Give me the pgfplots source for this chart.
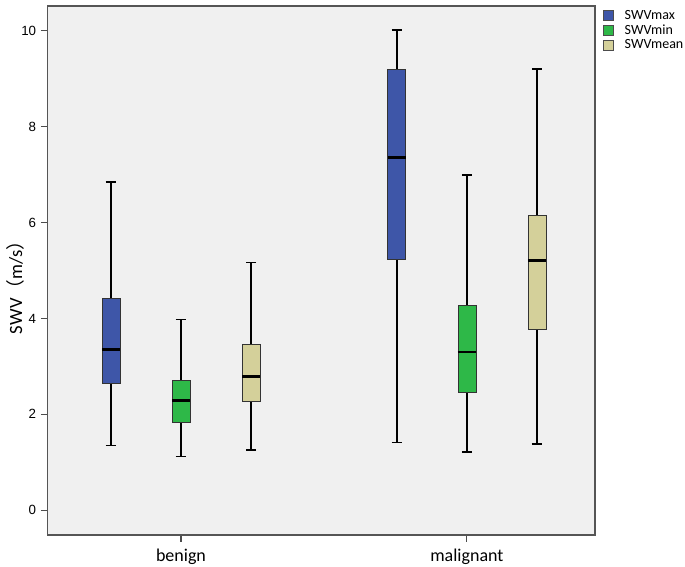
\documentclass[border=0pt]{standalone}
\usepackage{fontspec}
\setmainfont{Carlito}
\newfontfamily\arial{Liberation Sans}
\newfontfamily\cjk{Noto Sans CJK SC}
\usepackage{pgfplots}
\pgfplotsset{compat=1.18}
\usepgfplotslibrary{statistics}

\definecolor{bgray}{RGB}{240,240,240}
\definecolor{frameg}{RGB}{85,85,85}
\definecolor{sblue}{RGB}{62,86,168}
\definecolor{sgreen}{RGB}{46,184,72}
\definecolor{stan}{RGB}{212,208,154}

\pgfplotsset{
  spssbox/.style={
    draw=black!80, line width=0.6pt,
    boxplot/draw direction=y,
    boxplot/box extend=0.063,
    boxplot/whisker extend=0.035,
    boxplot/every whisker/.style={black, line width=1.3pt},
    boxplot/every median/.style={black, line width=2.2pt},
    forget plot,
  },
}

\begin{document}
\begin{tikzpicture}
\begin{axis}[
  at={(0,0)}, anchor=south west,
  scale only axis,
  width=410.6pt, height=396.75pt,
  xmin=-0.467, xmax=1.448,
  ymin=-0.52, ymax=10.52,
  axis background/.style={fill=bgray},
  axis line style={frameg, line width=0.9pt},
  xtick={0,1},
  xticklabels={benign, malignant},
  ytick={0,2,4,6,8,10},
  xtick pos=bottom, ytick pos=left,
  tick align=outside,
  major tick length=5pt,
  xtick style={black!70, line width=0.8pt},
  ytick style={black!70, line width=0.8pt},
  xticklabel style={font=\fontsize{13.5}{15}\selectfont, yshift=-2pt},
  yticklabel style={font=\arial\fontsize{10}{12}\selectfont},
  /pgf/number format/assume math mode=true,
  legend style={at={(rel axis cs:1.0146,0.998)}, anchor=north west, draw=none, fill=none,
    font=\fontsize{10.5}{12}\selectfont, row sep=-1.5pt, inner sep=0pt,
    nodes={inner xsep=8pt}},
  legend cell align=left,
  legend image code/.code={\draw[#1, line width=0.6pt] (0pt,-3.75pt) rectangle (7.5pt,3.75pt);},
]
\addlegendimage{fill=sblue, draw=black!70}
\addlegendentry{SWVmax}
\addlegendimage{fill=sgreen, draw=black!70}
\addlegendentry{SWVmin}
\addlegendimage{fill=stan, draw=black!70}
\addlegendentry{SWVmean}

% benign
\addplot[spssbox, fill=sblue, boxplot prepared={draw position=-0.245,
  lower whisker=1.35, lower quartile=2.64, median=3.35, upper quartile=4.41, upper whisker=6.85}]
  coordinates {};
\addplot[spssbox, fill=sgreen, boxplot prepared={draw position=0,
  lower whisker=1.12, lower quartile=1.83, median=2.28, upper quartile=2.71, upper whisker=3.98}]
  coordinates {};
\addplot[spssbox, fill=stan, boxplot prepared={draw position=0.245,
  lower whisker=1.25, lower quartile=2.26, median=2.78, upper quartile=3.45, upper whisker=5.17}]
  coordinates {};
% malignant
\addplot[spssbox, fill=sblue, boxplot prepared={draw position=0.755,
  lower whisker=1.41, lower quartile=5.24, median=7.36, upper quartile=9.19, upper whisker=10.02}]
  coordinates {};
\addplot[spssbox, fill=sgreen, boxplot prepared={draw position=1,
  lower whisker=1.21, lower quartile=2.46, median=3.30, upper quartile=4.28, upper whisker=6.99}]
  coordinates {};
\addplot[spssbox, fill=stan, boxplot prepared={draw position=1.245,
  lower whisker=1.38, lower quartile=3.78, median=5.20, upper quartile=6.14, upper whisker=9.20}]
  coordinates {};
\end{axis}
% y axis title
\node[rotate=90, anchor=center, inner sep=0pt, font=\fontsize{14}{16}\selectfont]
  at (-24.4pt,189pt) {SWV{\cjk （}m/s{\cjk ）}};
\pgfresetboundingbox
\useasboundingbox (-35.6pt,-23.25pt) rectangle (478.1pt,401.25pt);
\end{tikzpicture}
\end{document}
